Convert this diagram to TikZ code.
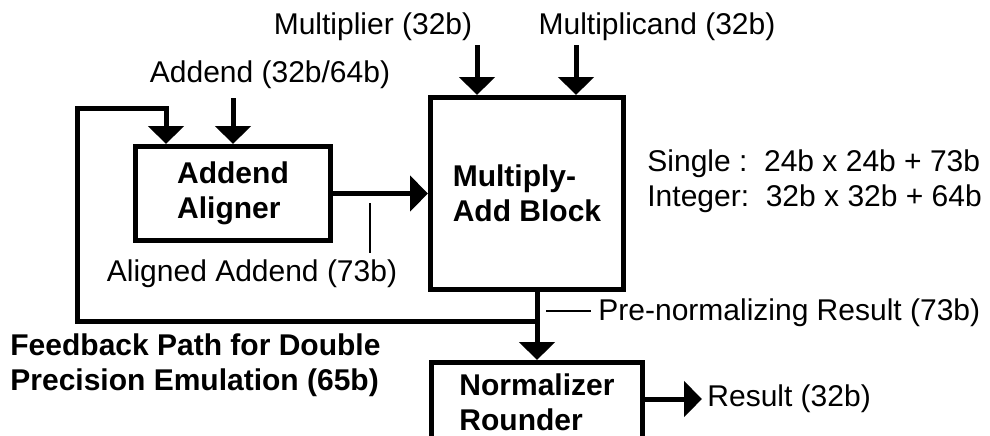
\documentclass[tikz,border=0pt]{standalone}
\usepackage{fontspec}
\setmainfont{Liberation Sans}
\usetikzlibrary{arrows.meta}

\begin{document}
\begin{tikzpicture}[x=0.5pt,y=-0.5pt,
  font=\fontsize{15}{17.5}\selectfont,
  blk/.style={draw,line width=2.5pt,font=\fontsize{15}{17.5}\selectfont\bfseries,
    align=left,inner sep=0pt},
  bus/.style={line width=2.5pt,-{Triangle[width=17.5pt,length=9pt]}},
  wire/.style={line width=2.5pt},
  tick/.style={line width=0.8pt},
  lbl/.style={inner sep=0pt}]
\useasboundingbox (0,0) rectangle (990,435);

% blocks
\node[blk,minimum width=97.5pt,minimum height=47pt] (al) at (233,193.5) {Addend\\Aligner};
\node[blk,minimum width=96.5pt,minimum height=96pt] (ma) at (527,193.5) {Multiply-\\Add Block};
\node[blk,minimum width=105.5pt,minimum height=39.5pt] (nr) at (537,402) {Normalizer\\Rounder};

% inputs
\coordinate (mplr) at (477,45);
\coordinate (mcnd) at (576,45);
\coordinate (addin) at (233,98);
\node[lbl] (mplrtxt) at (373,27) {Multiplier (32b)};
\node[lbl] (mcndtxt) at (657,27) {Multiplicand (32b)};
\node[lbl] (addtxt) at (270,75) {Addend (32b/64b)};

\draw[bus] (mplr) -- (mplr |- ma.north);
\draw[bus] (mcnd) -- (mcnd |- ma.north);
\draw[bus] (addin) -- (al.north);

% aligned addend
\draw[bus] (al.east) -- (ma.west);
\coordinate (altk) at (370,203);
\draw[tick] (altk) -- +(0,50);
\node[lbl] (altxt) at (252,274) {Aligned Addend (73b)};

% result path and feedback loop
\coordinate (jn) at (537,321);
\draw[bus] (ma.south -| nr.north) -- (nr.north);
\draw[bus] (jn) -| (77,108) -| (166,144);
\coordinate (prtk) at (546,311);
\draw[tick] (prtk) -- +(45,0);
\node[lbl,anchor=west] (prtxt) at (598,313) {Pre-normalizing Result (73b)};

\coordinate (res) at (702,399);
\draw[bus] (nr.east |- res) -- (res);
\node[lbl,anchor=west] (restxt) at (707,399) {Result (32b)};

% notes
\node[lbl,anchor=west,align=left] (fmt) at (647,181)
  {Single :\ \ 24b x 24b + 73b\\Integer:\ \ 32b x 32b + 64b};
\node[lbl,anchor=west,align=left,font=\fontsize{15}{17.5}\selectfont\bfseries] (fbtxt) at (10,365)
  {Feedback Path for Double\\Precision Emulation (65b)};
\end{tikzpicture}
\end{document}
